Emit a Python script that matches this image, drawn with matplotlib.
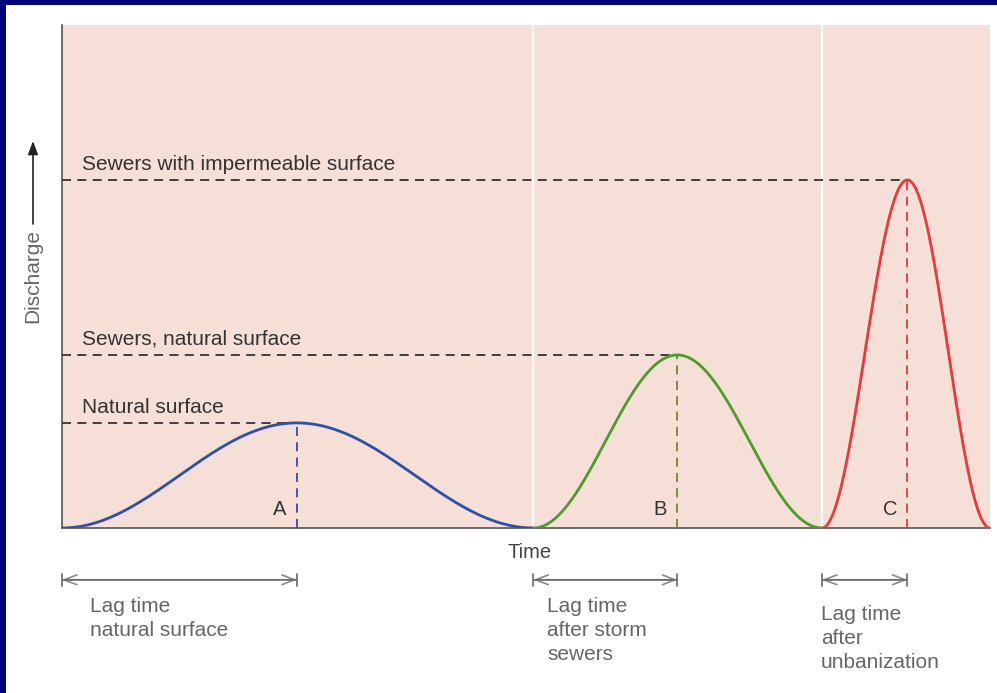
import numpy as np
import matplotlib
matplotlib.use("Agg")
import matplotlib.pyplot as plt
from matplotlib.patches import Rectangle

plt.rcParams['font.family'] = ['Liberation Sans', 'DejaVu Sans']

# ---- data (time and discharge in relative units) ----
labels = ["A", "B", "C"]
curve_names = ["Natural surface", "Sewers, natural surface", "Sewers with impermeable surface"]
start_t = [0.0, 50.8, 81.9]
peak_t = [25.3, 66.3, 91.1]
end_t = [50.8, 81.9, 100.0]
peak_q = [20.9, 34.4, 69.2]
colors = ["#2f4ea6", "#4e9a2c", "#e8393c"]
dash_colors = ["#2f4ea6", "#6e8a30", "#e8393c"]
lag_texts = ["Lag time\nnatural surface", "Lag time\nafter storm\nsewers", "Lag time\nafter\nunbanization"]

W, H = 997, 693
fig = plt.figure(figsize=(W / 100, H / 100), dpi=100)
fig.patch.set_facecolor("white")

# navy frame (top and left)
fig.patches.append(Rectangle((0, (H - 5) / H), 1, 5 / H, transform=fig.transFigure,
                             facecolor="#00007a", edgecolor="none", zorder=0))
fig.patches.append(Rectangle((0, 0), 6 / W, 1, transform=fig.transFigure,
                             facecolor="#00007a", edgecolor="none", zorder=0))

ax_l, ax_r, ax_t, ax_b = 62, 990, 25, 528
ax = fig.add_axes([ax_l / W, (H - ax_b) / H, (ax_r - ax_l) / W, (ax_b - ax_t) / H])
ax.set_facecolor("#f5dfd7")
ax.set_xlim(0, 100)
ax.set_ylim(0, 100)
for s in ["top", "right"]:
    ax.spines[s].set_visible(False)
for s in ["left", "bottom"]:
    ax.spines[s].set_color("#555555")
    ax.spines[s].set_linewidth(1.2)
ax.set_xticks([])
ax.set_yticks([])

# page-seam white separators
for xs in [start_t[1], start_t[2]]:
    ax.axvline(xs, color="white", lw=1.6, alpha=0.9, zorder=1)

dash = (0, (5, 3.5))
for i in range(3):
    # rising and falling limbs (raised-cosine hydrograph shape through key points)
    tr = np.linspace(start_t[i], peak_t[i], 120)
    qr = peak_q[i] * (1 - np.cos(np.pi * (tr - start_t[i]) / (peak_t[i] - start_t[i]))) / 2
    tf = np.linspace(peak_t[i], end_t[i], 120)
    qf = peak_q[i] * (1 + np.cos(np.pi * (tf - peak_t[i]) / (end_t[i] - peak_t[i]))) / 2
    ax.plot(np.r_[tr, tf], np.r_[qr, qf], color=colors[i], lw=2.0, zorder=4,
            solid_capstyle="round")
    ax.plot([0, peak_t[i]], [peak_q[i], peak_q[i]], color="#333333", lw=1.3,
            linestyle=dash, zorder=3)
    ax.plot([peak_t[i], peak_t[i]], [0, peak_q[i]], color=dash_colors[i], lw=1.3,
            linestyle=dash, zorder=3)
    ax.text(peak_t[i] - 1.8, 3.6, labels[i], ha="center", va="center",
            fontsize=14.5, color="#333333")

# curve labels
label_y = [22.9, 36.4, 71.2]
for name, yy in zip(curve_names, label_y):
    ax.text(2.2, yy, name, ha="left", va="baseline", fontsize=15, color="#333333")

# Time label
ax.text(50.4, -4.8, "Time", ha="center", va="center", fontsize=14.5, color="#444444",
        clip_on=False)

# lag arrows
lag_y = -10.3
for i in range(3):
    ax.annotate("", xy=(start_t[i], lag_y), xytext=(peak_t[i], lag_y),
                arrowprops=dict(arrowstyle="<->,head_length=0.9,head_width=0.35",
                                color="#8a8a8a", lw=1.2, shrinkA=0, shrinkB=0),
                annotation_clip=False)
    ax.annotate("", xy=(start_t[i], lag_y), xytext=(peak_t[i], lag_y),
                arrowprops=dict(arrowstyle="|-|,widthA=0.45,widthB=0.45",
                                color="#6a6a6a", lw=1.2, shrinkA=0, shrinkB=0),
                annotation_clip=False)

lag_x = [3.0, 52.3, 81.8]
lag_top = [-13.8, -13.8, -15.3]
for txt, xx, yy in zip(lag_texts, lag_x, lag_top):
    ax.text(xx, yy, txt, ha="left", va="top", fontsize=15, color="#666666",
            linespacing=1.33, clip_on=False)

# Discharge axis label with arrow
fig.text(33 / W, (H - 276) / H, "Discharge", rotation=90, ha="center", va="center",
         fontsize=15, color="#666666")
ax.annotate("", xy=(33, H - 141), xytext=(33, H - 224), xycoords="figure pixels",
            textcoords="figure pixels",
            arrowprops=dict(arrowstyle="-|>,head_length=0.8,head_width=0.3",
                            color="#222222", lw=1.2, shrinkA=0, shrinkB=0),
            annotation_clip=False)

fig.savefig("out.png", dpi=100)
